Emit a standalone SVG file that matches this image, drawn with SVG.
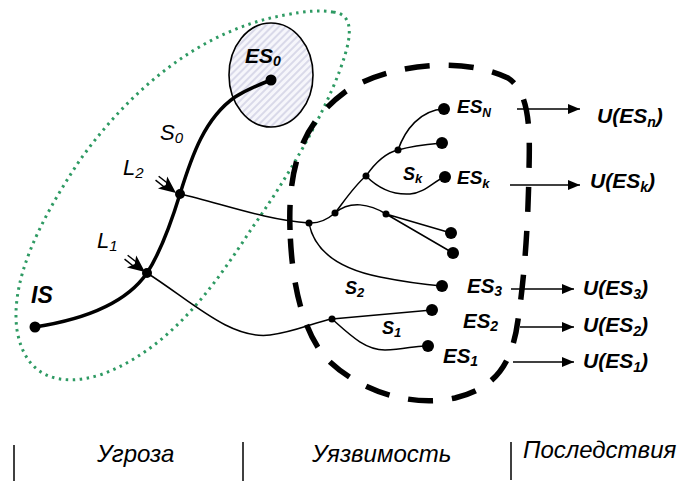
<svg xmlns="http://www.w3.org/2000/svg" width="688" height="481" viewBox="0 0 688 481">
<style>
.t{font-family:"Liberation Sans",Arial,sans-serif;font-style:italic;fill:#000}
.b{font-weight:bold}
.thin{fill:none;stroke:#000;stroke-width:1.5}
.thick{fill:none;stroke:#000;stroke-width:3.5;stroke-linecap:round}
.arr{fill:none;stroke:#000;stroke-width:1.5;marker-end:url(#ah)}
.sep{stroke:#000;stroke-width:1.5}
</style>
<defs>
<pattern id="hatch" width="5" height="5" patternUnits="userSpaceOnUse" patternTransform="rotate(45)">
<rect width="5" height="5" fill="#f6f6fb"/>
<line x1="1" y1="0" x2="1" y2="5" stroke="#c6c6de" stroke-width="1.2"/>
</pattern>
<marker id="ah" markerWidth="12" markerHeight="10" refX="12" refY="5" orient="auto" markerUnits="userSpaceOnUse">
<path d="M0,0 L12,5 L0,10 Z" fill="#000"/>
</marker>
<g id="larr">
<path d="M0,0 L-17,-7.5 L-13,0 L-17,7.5 Z" fill="#000"/>
<line x1="-24" y1="-2.5" x2="-13" y2="-2.5" stroke="#000" stroke-width="1.5"/>
<line x1="-24" y1="2.5" x2="-13" y2="2.5" stroke="#000" stroke-width="1.5"/>
</g>
</defs>
<rect width="688" height="481" fill="#fff"/>

<g id="threat-region">
<path d="M 333 12 C 352 14 352 32 345 55 C 333 95 300 160 252 228 C 215 285 170 350 100 375 C 60 387 25 378 17 330 C 10 280 40 220 80 160 C 130 90 200 30 285 15 C 305 11 320 10 333 12 Z" fill="none" stroke="#2e9a63" stroke-width="3" stroke-dasharray="2.5 4.5"/>
</g>

<g id="vulnerability-region">
<path d="M 290 230 C 288 170 300 125 345 92 C 385 65 460 55 508 78 C 530 92 530 130 529 170 C 528 230 524 280 518 320 C 512 365 495 388 455 398 C 410 408 360 390 330 362 C 305 338 292 290 290 230 Z" fill="none" stroke="#000" stroke-width="5.5" stroke-dasharray="25 19"/>
</g>

<g id="ES0">
<ellipse cx="271" cy="75" rx="42" ry="52" fill="url(#hatch)" stroke="#000" stroke-width="1.6"/>
<text class="t b" x="245" y="63" font-size="21">ES<tspan font-size="14" dy="3">0</tspan></text>
</g>

<g id="connectors">
<path class="thick" d="M 35 327 C 80 320 125 305 147 273 C 162 250 172 220 180 194 C 192 155 205 118 235 97 C 248 89 258 85 271 80"/>
<path class="thin" d="M 180 194 C 220 203 265 220 309 223"/>
<path class="thin" d="M 147 273 C 190 300 230 340 270 335 C 295 332 315 322 332 319"/>
<path class="thin" d="M 309 223 Q 322 224 335 213"/>
<path class="thin" d="M 335 213 C 345 200 355 185 366 176 C 375 163 385 153 398 150"/>
<path class="thin" d="M 398 150 C 405 130 420 110 444 109"/>
<path class="thin" d="M 398 150 C 415 145 430 144 442 143"/>
<path class="thin" d="M 366 176 C 380 190 395 195 410 194 C 425 193 435 180 445 177"/>
<path class="thin" d="M 335 213 C 350 200 370 204 386 214"/>
<path class="thin" d="M 386 214 L 451 233 M 386 214 L 453 253"/>
<path class="thin" d="M 309 223 C 315 255 345 270 380 277 C 410 283 430 285 442 286"/>
<path class="thin" d="M 332 319 L 432 310"/>
<path class="thin" d="M 332 319 C 350 335 365 350 385 350 C 405 350 415 345 428 346"/>
<use href="#larr" transform="translate(176,193) rotate(38)"/>
<use href="#larr" transform="translate(145,272) rotate(38)"/>
<line class="arr" x1="517" y1="109" x2="580" y2="109"/>
<line class="arr" x1="510" y1="185" x2="580" y2="185"/>
<line class="arr" x1="511" y1="289" x2="574" y2="289"/>
<line class="arr" x1="520" y1="327" x2="574" y2="327"/>
<line class="arr" x1="513" y1="362" x2="574" y2="362"/>
</g>

<g id="IS">
<circle cx="35" cy="327" r="5.5"/>
<text class="t b" x="31" y="303" font-size="23">IS</text>
</g>
<g id="L1-node">
<circle cx="147" cy="273" r="5"/>
<text class="t" x="97" y="248" font-size="22">L<tspan font-size="15" dy="3">1</tspan></text>
</g>
<g id="L2-node">
<circle cx="180" cy="194" r="5"/>
<text class="t" x="123" y="175" font-size="22">L<tspan font-size="15" dy="3">2</tspan></text>
</g>
<g id="S0-label">
<circle cx="271" cy="80" r="5.5"/>
<text class="t" x="160" y="140" font-size="22">S<tspan font-size="15" dy="3">0</tspan></text>
</g>
<g id="junctions">
<circle cx="309" cy="223" r="3.5"/>
<circle cx="335" cy="213" r="3.5"/>
<circle cx="366" cy="176" r="3.5"/>
<circle cx="398" cy="150" r="3.5"/>
<circle cx="386" cy="214" r="3.5"/>
<circle cx="332" cy="319" r="3.5"/>
</g>
<g id="ESN">
<circle cx="444" cy="109" r="6"/>
<text class="t b" x="457" y="113" font-size="19">ES<tspan font-size="12" dy="4">N</tspan></text>
</g>
<g id="ES-unnamed1"><circle cx="442" cy="143" r="6"/></g>
<g id="ESk">
<circle cx="445" cy="177" r="6"/>
<text class="t b" x="457" y="184" font-size="19">ES<tspan font-size="13" dy="4">k</tspan></text>
<text class="t b" x="403" y="180" font-size="18">S<tspan font-size="13" dy="3">k</tspan></text>
</g>
<g id="ES-unnamed2"><circle cx="451" cy="233" r="6"/></g>
<g id="ES-unnamed3"><circle cx="453" cy="253" r="6"/></g>
<g id="ES3">
<circle cx="442" cy="286" r="6"/>
<text class="t b" x="467" y="293" font-size="20.5">ES<tspan font-size="14" dy="3">3</tspan></text>
<text class="t b" x="345" y="294" font-size="18">S<tspan font-size="13" dy="3">2</tspan></text>
</g>
<g id="ES2">
<circle cx="432" cy="310" r="6"/>
<text class="t b" x="463" y="328" font-size="20.5">ES<tspan font-size="14" dy="3">2</tspan></text>
<text class="t b" x="382" y="334" font-size="18">S<tspan font-size="13" dy="3">1</tspan></text>
</g>
<g id="ES1">
<circle cx="428" cy="346" r="6"/>
<text class="t b" x="443" y="363" font-size="20.5">ES<tspan font-size="14" dy="3">1</tspan></text>
</g>
<g id="consequences">
<text class="t b" x="597" y="123" font-size="21">U(ES<tspan font-size="14" dy="4">n</tspan><tspan dy="-4">)</tspan></text>
<text class="t b" x="590" y="188" font-size="21">U(ES<tspan font-size="14" dy="4">k</tspan><tspan dy="-4">)</tspan></text>
<text class="t b" x="583" y="295" font-size="21">U(ES<tspan font-size="14" dy="4">3</tspan><tspan dy="-4">)</tspan></text>
<text class="t b" x="583" y="332" font-size="21">U(ES<tspan font-size="14" dy="4">2</tspan><tspan dy="-4">)</tspan></text>
<text class="t b" x="583" y="368" font-size="21">U(ES<tspan font-size="14" dy="4">1</tspan><tspan dy="-4">)</tspan></text>
</g>
<g id="legend">
<line class="sep" x1="14" y1="445" x2="14" y2="481"/>
<line class="sep" x1="243" y1="442" x2="243" y2="481"/>
<line class="sep" x1="511" y1="442" x2="511" y2="480"/>
<text class="t" x="97" y="462" font-size="24">Угроза</text>
<text class="t" x="312" y="462" font-size="24">Уязвимость</text>
<text class="t" x="523" y="458" font-size="24">Последствия</text>
</g>
</svg>
